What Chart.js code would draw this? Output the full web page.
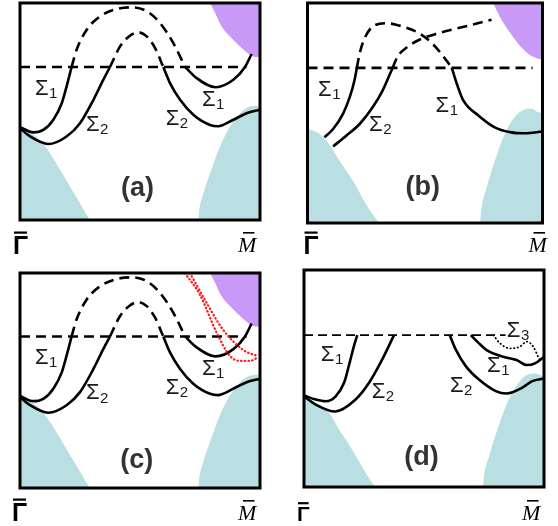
<!DOCTYPE html>
<html>
<head>
<meta charset="utf-8">
<script src="https://cdn.jsdelivr.net/npm/chart.js@4/dist/chart.umd.min.js"></script>
<style>
  html, body { margin: 0; padding: 0; background: #fff; width: 558px; height: 526px; overflow: hidden; }
  canvas { position: absolute; }
</style>
</head>
<body>
<canvas id="pa" width="279" height="263" style="left:0;top:0"></canvas>
<canvas id="pb" width="279" height="263" style="left:279px;top:0"></canvas>
<canvas id="pc" width="279" height="263" style="left:0;top:263px"></canvas>
<canvas id="pd" width="279" height="263" style="left:279px;top:263px"></canvas>
<script>
// Momentum k runs from Γ (0) to M (1); energy E is normalised to the window (0 bottom, 1 top).
// Each band is a list of [k, E] pairs.

// ---- panels (a) and (c): same band structure ----
const acFermi    = [[0, 0.705], [0.944, 0.705]];
const acS1Left   = [[0, 0.428], [0.055, 0.404], [0.097, 0.415], [0.139, 0.462], [0.174, 0.538], [0.194, 0.615], [0.215, 0.705]];
const acS1Arch   = [[0.215, 0.705], [0.236, 0.785], [0.278, 0.877], [0.333, 0.938], [0.403, 0.972], [0.465, 0.98], [0.528, 0.962], [0.583, 0.908], [0.639, 0.815], [0.688, 0.705]];
const acS1Right  = [[0.688, 0.705], [0.736, 0.654], [0.815, 0.612], [0.889, 0.646], [0.9375, 0.705], [0.965, 0.765]];
const acS2Left   = [[0, 0.423], [0.042, 0.385], [0.118, 0.35], [0.194, 0.385], [0.25, 0.446], [0.306, 0.554], [0.347, 0.646], [0.375, 0.705]];
const acS2Arch   = [[0.375, 0.705], [0.417, 0.8], [0.458, 0.849], [0.493, 0.865], [0.528, 0.846], [0.563, 0.792], [0.597, 0.705]];
const acS2Right  = [[0.597, 0.705], [0.625, 0.631], [0.667, 0.554], [0.722, 0.485], [0.792, 0.438], [0.825, 0.432], [0.889, 0.462], [0.944, 0.492], [1, 0.508]];
const acBulkLeft  = [[0, 0.434], [0.035, 0.408], [0.083, 0.369], [0.125, 0.308], [0.167, 0.231], [0.208, 0.154], [0.25, 0.077], [0.281, 0.018], [0.292, 0]];
const acBulkRight = [[0.743, 0], [0.747, 0.046], [0.764, 0.123], [0.792, 0.215], [0.833, 0.338], [0.875, 0.431], [0.917, 0.492], [0.951, 0.52], [0.986, 0.526], [1, 0.523]];
const acUpper     = [[0.792, 1], [0.813, 0.954], [0.84, 0.892], [0.875, 0.846], [0.917, 0.8], [0.958, 0.762], [0.986, 0.751], [1, 0.751]];

// ---- panel (c): extra dotted bands ----
const cDotA = [[0.6875, 1.0], [0.75, 0.898], [0.82, 0.721], [0.875, 0.614], [0.917, 0.591], [0.958, 0.591], [0.988, 0.605]];
const cDotB = [[0.708, 1.0], [0.778, 0.86], [0.847, 0.735], [0.93, 0.642], [0.988, 0.614]];

// ---- panel (b) ----
const bFermi    = [[0, 0.705], [0.958, 0.705]];
const bS1Left   = [[0.072, 0.389], [0.109, 0.427], [0.151, 0.496], [0.18, 0.573], [0.2, 0.649], [0.21, 0.705]];
const bS1Arch   = [[0.21, 0.705], [0.222, 0.771], [0.243, 0.84], [0.278, 0.893], [0.334, 0.908], [0.404, 0.893], [0.474, 0.863], [0.53, 0.817], [0.579, 0.756], [0.614, 0.705]];
const bS1Right  = [[0.614, 0.705], [0.635, 0.634], [0.663, 0.557], [0.727, 0.489], [0.797, 0.435], [0.867, 0.412], [0.923, 0.408], [1, 0.416]];
const bS2Left   = [[0.109, 0.348], [0.165, 0.397], [0.222, 0.45], [0.278, 0.527], [0.32, 0.603], [0.362, 0.705]];
const bS2Upper  = [[0.362, 0.705], [0.383, 0.756], [0.418, 0.794], [0.474, 0.832], [0.558, 0.863], [0.67, 0.893], [0.783, 0.924]];
const bBulkLeft  = [[0, 0.427], [0.039, 0.412], [0.081, 0.374], [0.137, 0.282], [0.194, 0.191], [0.25, 0.084], [0.299, 0.008], [0.305, 0]];
const bBulkRight = [[0.734, 0], [0.741, 0.069], [0.762, 0.16], [0.797, 0.282], [0.839, 0.405], [0.881, 0.481], [0.923, 0.515], [0.958, 0.519], [0.979, 0.504], [1, 0.5]];
const bUpper     = [[0.79, 1], [0.818, 0.939], [0.853, 0.878], [0.895, 0.817], [0.937, 0.771], [0.979, 0.748], [1, 0.743]];

// ---- panel (d) ----
const dFermi    = [[0, 0.7], [0.84, 0.7]];
const dS1Left   = [[0, 0.422], [0.049, 0.403], [0.09, 0.395], [0.132, 0.418], [0.167, 0.48], [0.19, 0.572], [0.208, 0.649], [0.222, 0.7]];
const dS2Left   = [[0, 0.418], [0.049, 0.38], [0.13, 0.348], [0.215, 0.403], [0.271, 0.48], [0.326, 0.588], [0.375, 0.7]];
const dS2Right  = [[0.607, 0.7], [0.632, 0.634], [0.674, 0.557], [0.729, 0.495], [0.799, 0.442], [0.845, 0.431], [0.91, 0.458], [0.951, 0.488], [1, 0.5]];
const dS1Right  = [[0.695, 0.7], [0.729, 0.662], [0.761, 0.631], [0.83, 0.6], [0.886, 0.585], [0.928, 0.562], [0.9625, 0.57], [1, 0.6]];
const dS3       = [[0.789, 0.7], [0.817, 0.662], [0.858, 0.639], [0.9, 0.647], [0.928, 0.67], [0.955, 0.647], [0.976, 0.6], [0.988, 0.576]];
const dBulkLeft  = [[0, 0.418], [0.049, 0.388], [0.104, 0.342], [0.146, 0.265], [0.201, 0.172], [0.257, 0.065], [0.292, 0.006], [0.296, 0]];
const dBulkRight = [[0.746, 0], [0.75, 0.049], [0.771, 0.142], [0.806, 0.265], [0.847, 0.388], [0.889, 0.472], [0.931, 0.518], [0.965, 0.523], [0.993, 0.511], [1, 0.503]];

// ---- text ----
const kLabels = ['Γ', 'M'];          // both drawn with an overbar
const panelNames = ['(a)', '(b)', '(c)', '(d)'];

const BULK = '#badfe2';
const UPPER = '#c899f7';

const pts = arr => arr.map(([x, y]) => ({ x, y }));

function solid(data) {
  return { data: pts(data), borderColor: '#000', borderWidth: 2.6, pointRadius: 0, fill: false,
           cubicInterpolationMode: 'monotone', order: 1 };
}
function dashed(data, width = 2.6, dash = [10, 6]) {
  return { data: pts(data), borderColor: '#000', borderWidth: width, borderDash: dash, pointRadius: 0,
           fill: false, cubicInterpolationMode: 'monotone', order: 1 };
}
function dotted(data, color, width) {
  return { data: pts(data), borderColor: color, borderWidth: width, borderDash: [0.5, 3.2],
           borderCapStyle: 'round', pointRadius: 0, fill: false, cubicInterpolationMode: 'monotone', order: 1 };
}
function region(data, color, fill) {
  return { data: pts(data), borderWidth: 0, borderColor: color, backgroundColor: color, pointRadius: 0,
           fill, cubicInterpolationMode: 'monotone', order: 5 };
}

// Frame, band names, panel name and the end-point labels of the k axis.
const decorations = {
  id: 'decorations',
  afterDatasetsDraw(chart, args, o) {
    const { ctx, chartArea: a, scales: { x, y } } = chart;
    ctx.save();
    ctx.strokeStyle = '#000';
    ctx.lineWidth = 3;
    ctx.strokeRect(a.left, a.top, a.right - a.left, a.bottom - a.top);

    ctx.fillStyle = '#1a1a1a';
    ctx.textBaseline = 'middle';
    ctx.textAlign = 'left';
    for (const s of o.sigmas) {
      const px = x.getPixelForValue(s.k), py = y.getPixelForValue(s.e);
      ctx.font = '22px "Liberation Sans"';
      ctx.fillText('Σ', px, py);
      const w = ctx.measureText('Σ').width;
      ctx.font = '15px "Liberation Sans"';
      ctx.fillText(s.n, px + w + 0.5, py + 5);
    }

    ctx.fillStyle = '#333';
    ctx.textAlign = 'center';
    ctx.font = 'bold 27px "Liberation Sans"';
    ctx.fillText(o.name, x.getPixelForValue(o.nameAt[0]), y.getPixelForValue(o.nameAt[1]));

    // Γ with overbar
    ctx.fillStyle = '#000';
    ctx.textAlign = 'left';
    ctx.textBaseline = 'alphabetic';
    ctx.font = `bold ${o.gSize}px "Liberation Sans"`;
    const gx = a.left + o.g[0], gy = a.bottom + o.g[1];
    ctx.fillText(kLabels[0], gx, gy);
    const gw = ctx.measureText(kLabels[0]).width;
    ctx.fillRect(gx + 1, gy - o.gSize * 0.9, gw - 2, 2.2);

    // M with overbar
    ctx.font = 'italic 22px "Liberation Serif"';
    const mx = a.right + o.m[0], my = a.bottom + o.m[1];
    ctx.fillText(kLabels[1], mx, my);
    ctx.fillRect(mx + 5, my - 20, 11.5, 1.6);
    ctx.restore();
  }
};

function panel(id, datasets, padding, opts) {
  new Chart(document.getElementById(id), {
    type: 'line',
    data: { datasets },
    options: {
      responsive: false,
      devicePixelRatio: 1,
      animation: false,
      layout: { padding },
      scales: {
        x: { type: 'linear', min: 0, max: 1, display: false },
        y: { type: 'linear', min: 0, max: 1, display: false }
      },
      plugins: { legend: { display: false }, tooltip: { enabled: false }, decorations: opts }
    },
    plugins: [decorations]
  });
}

const acBands = () => [
  dashed(acFermi), solid(acS1Left), dashed(acS1Arch), solid(acS1Right),
  solid(acS2Left), dashed(acS2Arch), solid(acS2Right),
  region(acBulkLeft, BULK, 'start'), region(acBulkRight, BULK, 'start'), region(acUpper, UPPER, 'end')
];
const acSigmas = [
  { k: 0.0625, e: 0.606, n: '1' }, { k: 0.275, e: 0.44, n: '2' },
  { k: 0.607, e: 0.465, n: '2' }, { k: 0.758, e: 0.555, n: '1' }
];

panel('pa', acBands(), { left: 20, top: 3, right: 19, bottom: 43 }, {
  sigmas: acSigmas, name: panelNames[0], nameAt: [0.49, 0.147],
  gSize: 25, g: [-7, 34], m: [-22, 32]
});

panel('pb', [
  dashed(bFermi), solid(bS1Left), dashed(bS1Arch), solid(bS1Right),
  solid(bS2Left), dashed(bS2Upper),
  region(bBulkLeft, BULK, 'start'), region(bBulkRight, BULK, 'start'), region(bUpper, UPPER, 'end')
], { left: 28.5, top: 3, right: 15.5, bottom: 40 }, {
  sigmas: [{ k: 0.045, e: 0.607, n: '1' }, { k: 0.262, e: 0.448, n: '2' }, { k: 0.545, e: 0.534, n: '1' }],
  name: panelNames[1], nameAt: [0.49, 0.16],
  gSize: 25, g: [-4, 31], m: [-14, 29]
});

panel('pc', [
  dotted(cDotA, '#ff1a1a', 2.2), dotted(cDotB, '#ff1a1a', 2.2), ...acBands()
], { left: 20, top: 10, right: 19, bottom: 38 }, {
  sigmas: acSigmas, name: panelNames[2], nameAt: [0.486, 0.128],
  gSize: 25, g: [-8, 33], m: [-22, 32]
});

panel('pd', [
  dashed(dFermi, 1.6, [9, 5]), solid(dS1Left), solid(dS2Left), solid(dS2Right), solid(dS1Right),
  dotted(dS3, '#000', 1.8),
  region(dBulkLeft, BULK, 'start'), region(dBulkRight, BULK, 'start')
], { left: 25, top: 7, right: 14, bottom: 39 }, {
  sigmas: [
    { k: 0.07, e: 0.608, n: '1' }, { k: 0.282, e: 0.438, n: '2' },
    { k: 0.608, e: 0.468, n: '2' }, { k: 0.763, e: 0.558, n: '1' }, { k: 0.845, e: 0.721, n: '3' }
  ],
  name: panelNames[3], nameAt: [0.49, 0.138],
  gSize: 21, g: [-7, 34], m: [-22, 33]
});
</script>
</body>
</html>
